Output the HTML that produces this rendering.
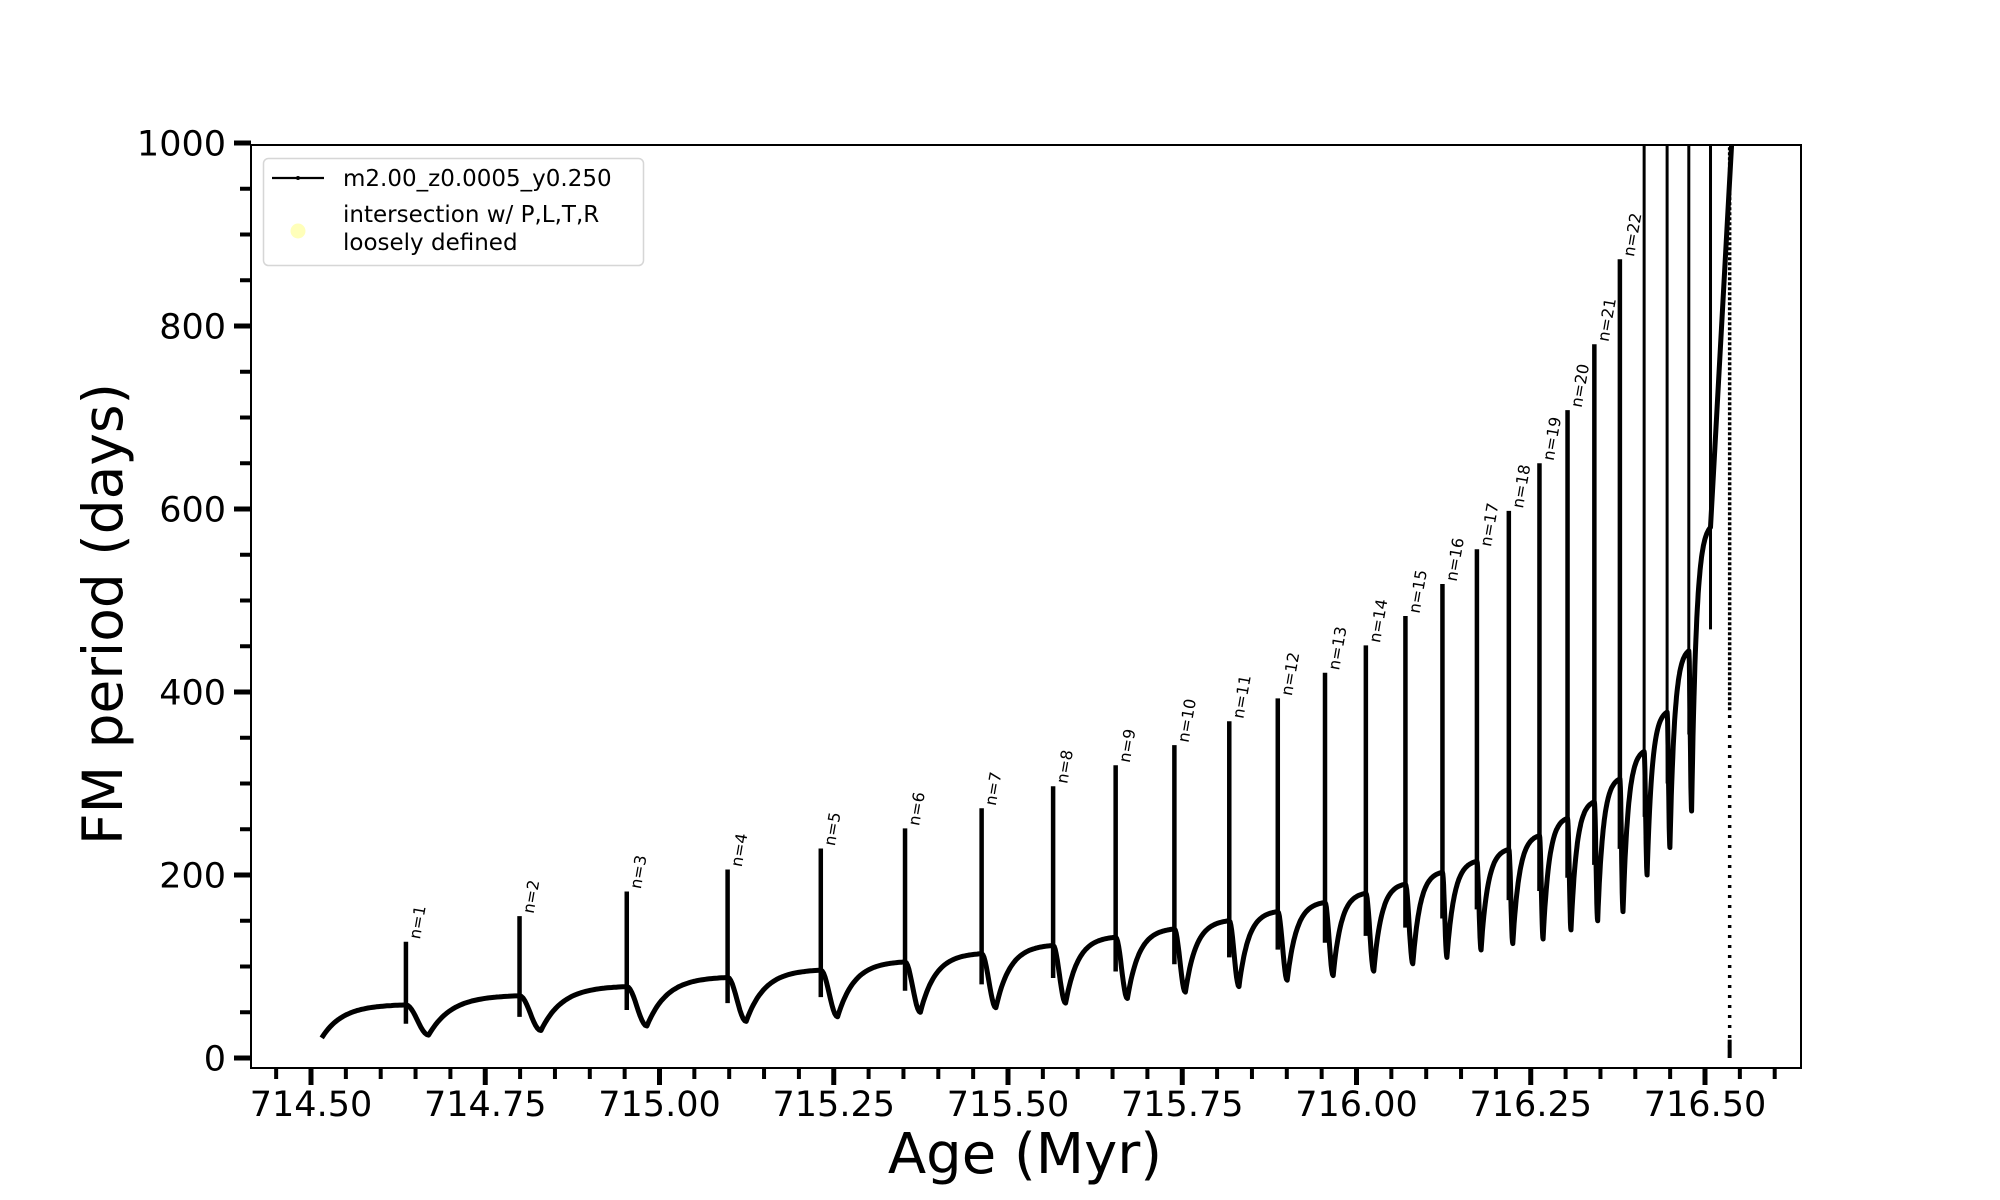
<!DOCTYPE html>
<html><head><meta charset="utf-8"><style>html,body{margin:0;padding:0;background:#fff}svg{display:block}</style></head>
<body>
<svg id="s" width="2000" height="1200" xmlns="http://www.w3.org/2000/svg" font-family="'DejaVu Sans','Liberation Sans',sans-serif">
<defs><clipPath id="c"><rect x="251" y="145" width="1550" height="923"/></clipPath></defs>
<rect width="2000" height="1200" fill="#fff"/>
<g id="ticks"></g>
<g id="data" clip-path="url(#c)"></g>
<g id="labels"></g>
<rect x="251" y="145" width="1550" height="923" fill="none" stroke="#000" stroke-width="2"/>
<text x="1025" y="1173" font-size="56" text-anchor="middle">Age (Myr)</text>
<text transform="translate(122,614) rotate(-90)" font-size="55" text-anchor="middle">FM period (days)</text>
<g>
<rect x="263.5" y="158.5" width="380" height="107" rx="5" fill="#fff" fill-opacity="0.8" stroke="#d6d6d6" stroke-width="1.5"/>
<line x1="272" y1="178" x2="324" y2="178" stroke="#000" stroke-width="2.2"/>
<circle cx="298" cy="178" r="2" fill="#000"/>
<circle cx="298" cy="231" r="7.5" fill="#ffffb3" opacity="0.9"/>
<text x="343" y="186" font-size="23">m2.00_z0.0005_y0.250</text>
<text x="343" y="222" font-size="23">intersection w/ P,L,T,R</text>
<text x="343" y="250" font-size="23">loosely defined</text>
</g>
</svg>
<script>
const NS="http://www.w3.org/2000/svg";
function el(t,a,p,txt){const e=document.createElementNS(NS,t);for(const k in a)e.setAttribute(k,a[k]);if(txt!==undefined)e.textContent=txt;p.appendChild(e);return e;}
const X=t=>311+(t-714.5)*697, Y=p=>1058-0.915*p, D=d=>d*1.2765;
const tk=document.getElementById('ticks'), dg=document.getElementById('data'), lb=document.getElementById('labels');
for(let v=0;v<=1000;v+=50){const y=Y(v);const maj=v%200===0;
 el('line',{x1:maj?234:240,x2:251,y1:y,y2:y,stroke:'#000','stroke-width':maj?5:4},tk);
 if(maj)el('text',{x:226,y:y+12.5,'font-size':35,'text-anchor':'end'},tk,String(v));}
for(let i=0;i<=43;i++){const t=714.45+i*0.05;const x=X(t);const maj=Math.abs(((t-714.5)/0.25)-Math.round((t-714.5)/0.25))<1e-6;
 el('line',{x1:x,x2:x,y1:1068,y2:maj?1085:1079,stroke:'#000','stroke-width':maj?5:4},tk);
 if(maj)el('text',{x:x,y:1116,'font-size':35,'text-anchor':'middle'},tk,t.toFixed(2));}
const P=[[318,127,58,25],[407,155,68,30],[491,182,78,35],[570,206,88,40],[643,229,96,45],[709,251,105,50],[769,273,114,55],[825,297,123,60],[874,320,132,65],[920,342,141,72],[963,368,150,78],[1001,393,160,85],[1038,421,170,90],[1070,451,180,95],[1101,483,190,103],[1130,518,203,110],[1157,556,215,118],[1182,598,228,125],[1206,650,243,130],[1228,708,262,140],[1249,780,280,150],[1269,873,305,160],[1288,1100,335,200],[1306,1100,378,230],[1323,1100,445,270],[1340,1100,580,365]];
let pts=[];
const g=v=>(1-Math.exp(-4*v))/(1-Math.exp(-4));
{const x0=D(252),x1=D(P[0][0]);for(let i=0;i<=40;i++){const v=i/40;pts.push([x0+(x1-x0)*v,Y(22+(P[0][2]-22)*g(v))]);}}
for(let i=0;i<P.length-1;i++){
 const xa=D(P[i][0]),xb=D(P[i+1][0]),pl=P[i][2],mn=P[i][3],pn=P[i+1][2];
 const d=(xb-xa)*(i<15?0.2:0.13);
 for(let k=0;k<=12;k++){const v=k/12;pts.push([xa+d*v,Y(mn+(pl-mn)*(0.5+0.5*Math.cos(Math.PI*v)))]);}
 for(let k=1;k<=40;k++){const v=k/40;pts.push([xa+d+(xb-xa-d)*v,Y(mn+(pn-mn)*g(v))]);}
}
pts.push([D(1340),Y(580)]);pts.push([D(1357),Y(1010)]);
el('path',{d:'M'+pts.map(p=>p[0].toFixed(1)+','+p[1].toFixed(1)).join('L'),fill:'none',stroke:'#000','stroke-width':5,'stroke-linejoin':'round'},dg);
P.forEach((p,i)=>{const x=D(p[0]);const lo=(p[2]+p[3])/2-4;
 el('line',{x1:x,x2:x,y1:Y(lo),y2:Y(p[1]),stroke:'#000','stroke-width':i<22?4.5:3},dg);
 if(i<22){const yt=Y(p[1])-2;el('text',{transform:`translate(${x+14},${yt}) rotate(-80)`,'font-size':16},lb,'n='+(i+1));}
});
const xf=D(1355);
el('line',{x1:xf,x2:xf,y1:Y(0),y2:Y(380),stroke:'#000','stroke-width':3.5,'stroke-dasharray':'3 7'},dg);
el('line',{x1:xf,x2:xf,y1:Y(380),y2:Y(1000),stroke:'#000','stroke-width':3.5,'stroke-dasharray':'3 2'},dg);
el('line',{x1:xf,x2:xf,y1:Y(0),y2:Y(20),stroke:'#000','stroke-width':4},dg);
</script>
</body></html>
